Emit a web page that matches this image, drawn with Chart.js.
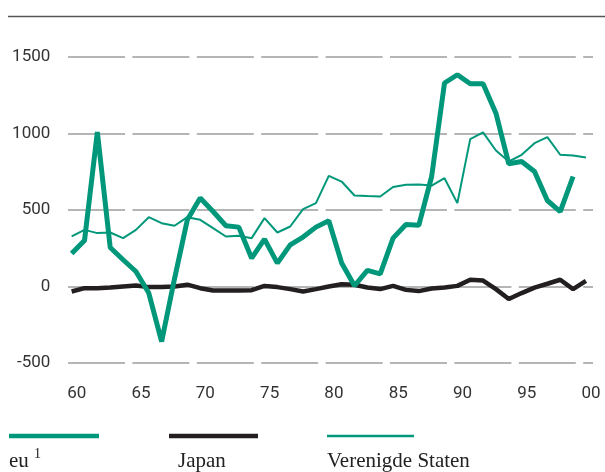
<!DOCTYPE html>
<html>
<head>
<meta charset="utf-8">
<script src="https://cdn.jsdelivr.net/npm/chart.js@4"></script>
<style>
  html, body { margin: 0; padding: 0; background: #fff; }
  #wrap { width: 605px; height: 472px; position: relative; }
</style>
</head>
<body>
<div id="wrap"><canvas id="chart" width="605" height="472"></canvas></div>
<script>
// years on the x axis
const years = [1960, 1961, 1962, 1963, 1964, 1965, 1966, 1967, 1968, 1969,
  1970, 1971, 1972, 1973, 1974, 1975, 1976, 1977, 1978, 1979,
  1980, 1981, 1982, 1983, 1984, 1985, 1986, 1987, 1988, 1989,
  1990, 1991, 1992, 1993, 1994, 1995, 1996, 1997, 1998, 1999, 2000];

// series
const euValues = [215, 300, 1010, 255, 175, 98, -43, -360, 50, 436,
  578, 490, 397, 388, 185, 310, 153, 272, 323, 388,
  430, 153, 5, 105, 83, 316, 405, 400, 719, 1330,
  1384, 1325, 1325, 1133, 802, 817, 752, 562, 490, 719, null];

const japanValues = [-33, -11, -11, -7, 0, 7, -4, -4, 0, 12,
  -11, -26, -26, -26, -24, 4, -4, -17, -33, -17,
  0, 15, 11, -7, -17, 4, -22, -30, -13, -7,
  4, 44, 39, -17, -82, -43, -7, 18, 44, -17, 37];

const usValues = [327, 370, 349, 353, 316, 370, 453, 414, 397, 453,
  436, 382, 327, 331, 316, 447, 353, 392, 506, 545,
  723, 686, 595, 591, 588, 650, 665, 667, 660, 708,
  545, 963, 1007, 889, 817, 861, 937, 976, 861, 856, 843];

const seriesNames = ['eu', 'Japan', 'Verenigde Staten'];
const xTickYears = [1960, 1965, 1970, 1975, 1980, 1985, 1990, 1995, 2000];
const yTicks = [-500, 0, 500, 1000, 1500];

const TEAL = '#00977a';
const BLACK = '#231f20';

// legend under the plot + thin rule on top
const extras = {
  id: 'extras',
  afterDraw(chart) {
    const ctx = chart.ctx;
    ctx.save();
    // top rule
    ctx.strokeStyle = '#555';
    ctx.lineWidth = 1.5;
    ctx.beginPath();
    ctx.moveTo(8, 16.5);
    ctx.lineTo(605, 16.5);
    ctx.stroke();

    // legend
    const items = [
      { x: 9, w: 90, lw: 4.5, color: TEAL, text: seriesNames[0], sup: '1' },
      { x: 169, w: 89, lw: 4.5, color: BLACK, text: seriesNames[1], tx: 178 },
      { x: 327, w: 87, lw: 2.3, color: TEAL, text: seriesNames[2] }
    ];
    items.forEach(it => {
      ctx.strokeStyle = it.color;
      ctx.lineWidth = it.lw;
      ctx.beginPath();
      ctx.moveTo(it.x, 436);
      ctx.lineTo(it.x + it.w, 436);
      ctx.stroke();
      ctx.fillStyle = '#222';
      ctx.font = '21px "Liberation Serif", serif';
      ctx.textBaseline = 'alphabetic';
      ctx.textAlign = 'left';
      const tx = it.tx || it.x;
      ctx.fillText(it.text, tx, 467);
      if (it.sup) {
        const w = ctx.measureText(it.text + ' ').width;
        ctx.font = '14px "Liberation Serif", serif';
        ctx.fillText(it.sup, tx + w, 458);
      }
    });
    ctx.restore();
  }
};

const ctx = document.getElementById('chart').getContext('2d');
new Chart(ctx, {
  type: 'line',
  data: {
    labels: years,
    datasets: [
      { label: seriesNames[0], data: euValues, borderColor: TEAL, borderWidth: 5 },
      { label: seriesNames[1], data: japanValues, borderColor: BLACK, borderWidth: 4.5 },
      { label: seriesNames[2], data: usValues, borderColor: TEAL, borderWidth: 2 }
    ]
  },
  options: {
    responsive: false,
    animation: false,
    elements: {
      point: { radius: 0, hoverRadius: 0 },
      line: { tension: 0, fill: false, borderJoinStyle: 'bevel', borderCapStyle: 'butt' }
    },
    layout: { padding: { top: 57, right: 12, left: 0, bottom: 0 } },
    scales: {
      x: {
        type: 'linear',
        min: 1959.74,
        max: 2000.55,
        afterBuildTicks: scale => {
          // labels sit a little right of the data year in the original
          scale.ticks = xTickYears.map(v => ({ value: v + 0.4 }));
        },
        afterFit: scale => {
          scale.height = 109;
          scale.paddingLeft = 0;
          scale.paddingRight = 0;
        },
        grid: { display: false },
        border: { display: false },
        ticks: {
          color: '#333',
          font: { family: 'Roboto', size: 17 },
          padding: 13,
          maxRotation: 0,
          autoSkip: false,
          callback: v => String(Math.floor(v)).slice(2)
        }
      },
      y: {
        min: -500,
        max: 1500,
        afterBuildTicks: scale => {
          scale.ticks = yTicks.map(v => ({ value: v }));
        },
        afterFit: scale => { scale.width = 68.3; },
        border: { display: false, dash: [57, 7.4] },
        grid: { color: '#b5b5b5', lineWidth: 2, drawTicks: false },
        ticks: {
          color: '#333',
          font: { family: 'Roboto', size: 17 },
          padding: 18,
          callback: v => String(v)
        }
      }
    },
    plugins: {
      legend: { display: false },
      tooltip: { enabled: false }
    }
  },
  plugins: [extras]
});
</script>
</body>
</html>
